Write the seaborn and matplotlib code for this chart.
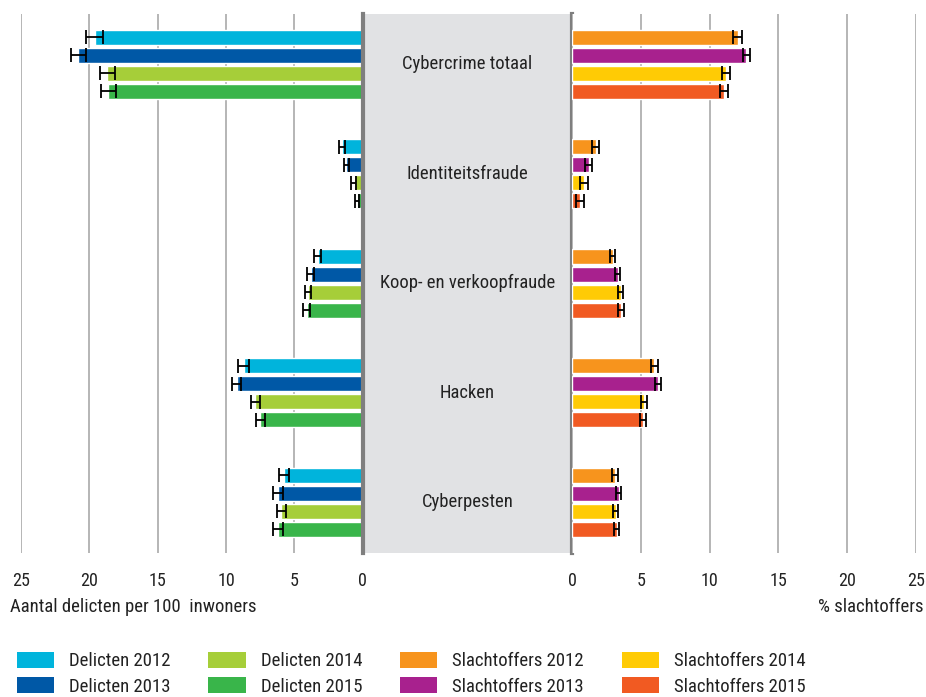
import matplotlib
matplotlib.use("Agg")
import matplotlib.pyplot as plt
import matplotlib.transforms as mtransforms
from matplotlib.patches import Patch
import seaborn as sns
import pandas as pd

# ---------------- data ----------------
categories = ["Cybercrime totaal", "Identiteitsfraude", "Koop- en verkoopfraude",
              "Hacken", "Cyberpesten"]
years = ["2012", "2013", "2014", "2015"]

# Aantal delicten per 100 inwoners (per year, in category order)
delicten_2012 = [19.6, 1.5, 3.3, 8.7, 5.75]
delicten_2013 = [20.8, 1.2, 3.8, 9.2, 6.2]
delicten_2014 = [18.7, 0.65, 4.0, 7.85, 5.95]
delicten_2015 = [18.6, 0.4, 4.1, 7.5, 6.2]
delicten_err_2012 = [0.63, 0.2, 0.25, 0.39, 0.39]
delicten_err_2013 = [0.53, 0.17, 0.25, 0.33, 0.34]
delicten_err_2014 = [0.55, 0.17, 0.25, 0.35, 0.35]
delicten_err_2015 = [0.55, 0.15, 0.25, 0.34, 0.36]

# % slachtoffers
slachtoffers_2012 = [12.05, 1.7, 2.94, 5.98, 3.12]
slachtoffers_2013 = [12.67, 1.2, 3.31, 6.26, 3.37]
slachtoffers_2014 = [11.2, 0.84, 3.51, 5.2, 3.16]
slachtoffers_2015 = [11.06, 0.57, 3.54, 5.12, 3.23]
slachtoffers_err_2012 = [0.32, 0.27, 0.19, 0.27, 0.2]
slachtoffers_err_2013 = [0.27, 0.27, 0.18, 0.22, 0.19]
slachtoffers_err_2014 = [0.28, 0.27, 0.18, 0.22, 0.19]
slachtoffers_err_2015 = [0.28, 0.27, 0.19, 0.22, 0.19]

delicten_labels = ["Delicten 2012", "Delicten 2013", "Delicten 2014", "Delicten 2015"]
slachtoffers_labels = ["Slachtoffers 2012", "Slachtoffers 2013",
                       "Slachtoffers 2014", "Slachtoffers 2015"]
delicten_colors = ["#00b4dc", "#0058a6", "#a6ce39", "#39b54a"]
slachtoffers_colors = ["#f7941d", "#a8218e", "#ffcb05", "#f15a22"]

xticks = [0, 5, 10, 15, 20, 25]
left_label = "Aantal delicten per 100  inwoners"
right_label = "% slachtoffers"

# -------------- build long tables --------------
def long_table(values, errors, labels):
    rows = []
    for vals, errs, lab in zip(values, errors, labels):
        for cat, v, e in zip(categories, vals, errs):
            rows.append({"category": cat, "series": lab, "value": v, "err": e})
    return pd.DataFrame(rows)

df_d = long_table([delicten_2012, delicten_2013, delicten_2014, delicten_2015],
                  [delicten_err_2012, delicten_err_2013, delicten_err_2014, delicten_err_2015],
                  delicten_labels)
df_s = long_table([slachtoffers_2012, slachtoffers_2013, slachtoffers_2014, slachtoffers_2015],
                  [slachtoffers_err_2012, slachtoffers_err_2013, slachtoffers_err_2014,
                   slachtoffers_err_2015],
                  slachtoffers_labels)

# -------------- style --------------
sns.set_style("white")
plt.rcParams["font.family"] = ["Roboto Condensed", "Lato", "DejaVu Sans"]
TXT = "#222222"
FS = 13

W, H = 926, 697
fig = plt.figure(figsize=(W / 100, H / 100), dpi=100)

y_top, y_bot = 14, 553
bottom = 1 - y_bot / H
height = (y_bot - y_top) / H
xl0, xl1 = 21, 362.7
xr0, xr1 = 572.3, 915.7

ax_l = fig.add_axes([xl0 / W, bottom, (xl1 - xl0) / W, height])
ax_c = fig.add_axes([xl1 / W, bottom, (xr0 - xl1) / W, height], sharey=ax_l)
ax_r = fig.add_axes([xr0 / W, bottom, (xr1 - xr0) / W, height], sharey=ax_l)

ylim = (4.464, -0.46)


def draw_panel(ax, df, labels, colors):
    sns.barplot(data=df, x="value", y="category", hue="series", hue_order=labels,
                order=categories, palette=colors, orient="h", width=0.66, gap=0.16,
                errorbar=None, legend=False, ax=ax, saturation=1, zorder=2)
    for lab, cont in zip(labels, ax.containers):
        sub = df[df["series"] == lab].set_index("category").loc[categories]
        for patch, e in zip(cont.patches, sub["err"]):
            yc = patch.get_y() + patch.get_height() / 2
            ax.errorbar(patch.get_width(), yc, xerr=e, fmt="none", ecolor="black",
                        elinewidth=1.3, capsize=5.2, capthick=1.3, zorder=3)
    ax.set_xlim(0, 25)
    ax.set_ylim(*ylim)
    ax.set_xticks(xticks)
    ax.set_xticklabels([str(t) for t in xticks])
    ax.tick_params(axis="x", length=0, pad=14, labelsize=FS, labelcolor=TXT)
    ax.tick_params(axis="y", left=False, labelleft=False)
    ax.set_xlabel("")
    ax.set_ylabel("")
    ax.grid(axis="x", color="#b0b0b0", linewidth=1.3, zorder=0)
    ax.grid(axis="y", visible=False)
    ax.set_axisbelow(True)
    for s in ax.spines.values():
        s.set_visible(False)


draw_panel(ax_l, df_d, delicten_labels, delicten_colors)
ax_l.invert_xaxis()
draw_panel(ax_r, df_s, slachtoffers_labels, slachtoffers_colors)

# center panel
ax_c.set_facecolor("#e1e2e4")
ax_c.set_xticks([])
ax_c.tick_params(axis="y", left=False, labelleft=False)
for name, s in ax_c.spines.items():
    if name in ("left", "right"):
        s.set_color("#7f7f7f")
        s.set_linewidth(3)
    else:
        s.set_visible(False)
trans = mtransforms.blended_transform_factory(ax_c.transAxes, ax_c.transData)
for i, cat in enumerate(categories):
    ax_c.text(0.5, i, cat, transform=trans, ha="center", va="center",
              fontsize=13.4, color=TXT)

# axis titles
fig.text(10 / W, 1 - 607 / H, left_label, ha="left", va="center", fontsize=13.5, color=TXT)
fig.text(924 / W, 1 - 607 / H, right_label, ha="right", va="center", fontsize=13.5, color=TXT)

# legend
handles = [Patch(facecolor=c, edgecolor="none") for c in delicten_colors + slachtoffers_colors]
labels = delicten_labels + slachtoffers_labels
fig.legend(handles, labels, ncol=4, loc="upper left",
           bbox_to_anchor=(0 / W, 1 - 635 / H), frameon=False, fontsize=13.5,
           handlelength=2.0, handleheight=0.95, handletextpad=0.8,
           columnspacing=2.0, labelspacing=0.35, labelcolor=TXT)

fig.savefig("out.png", dpi=100)
